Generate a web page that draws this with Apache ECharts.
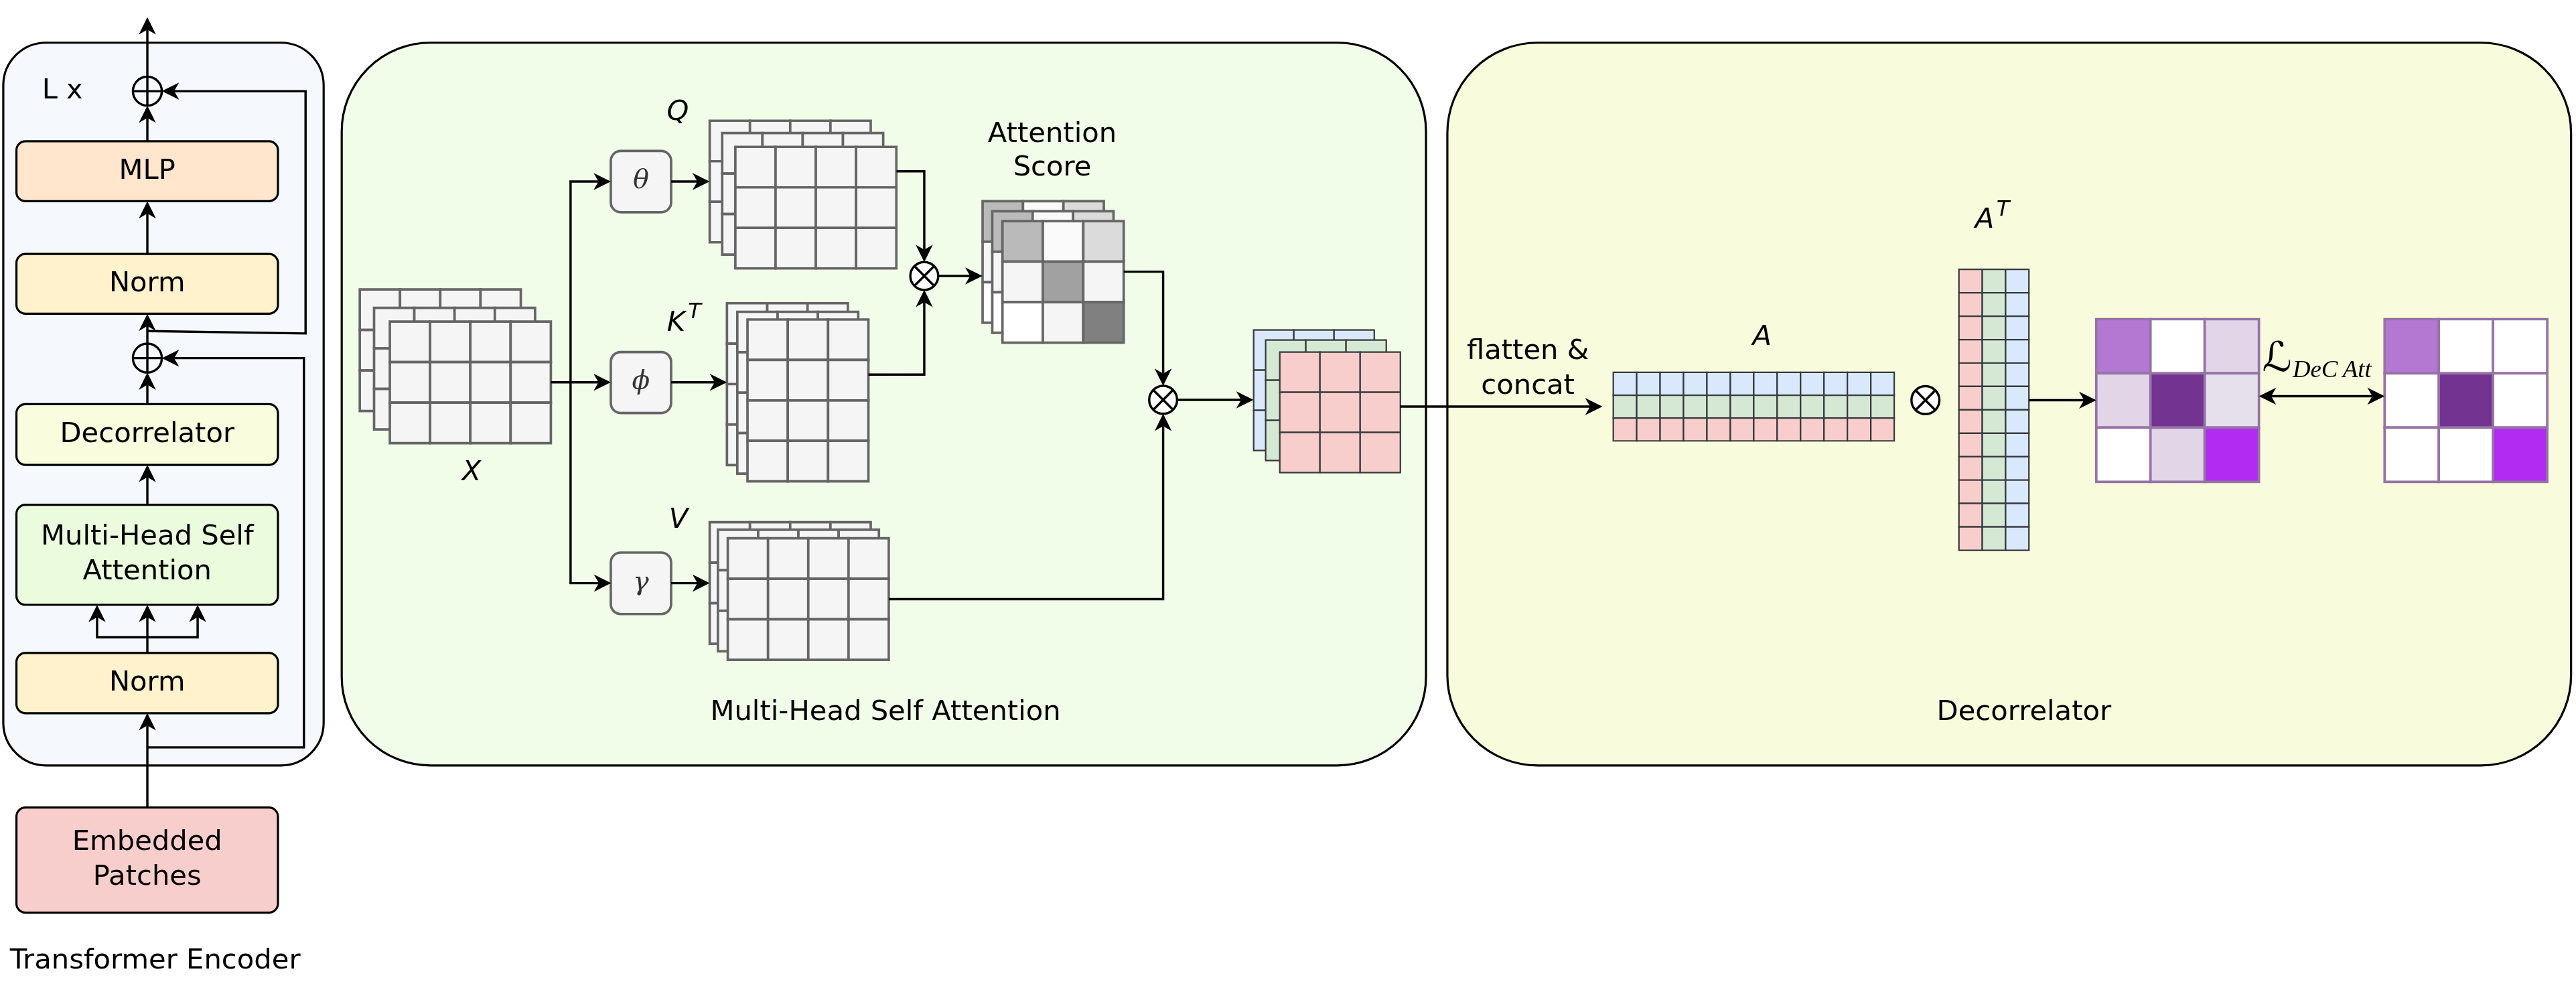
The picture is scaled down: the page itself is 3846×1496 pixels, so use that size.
<!DOCTYPE html>
<html><head><meta charset="utf-8">
<script src="https://cdn.jsdelivr.net/npm/echarts@6/dist/echarts.min.js"></script>
<style>html,body{margin:0;padding:0;background:#fff}#c{width:3846px;height:1496px}</style>
</head><body><div id="c"></div>
<script>
// ---- drawing space (reference units) ----
const SPACE_W = 1568, SPACE_H = 610;

// ---- panels ----
const panels = [
  {id:'encoder', x0:2,   y0:26, x1:197,  y1:466, r:26},
  {id:'mhsa',    x0:208, y0:26, x1:868,  y1:466, r:54},
  {id:'decor',   x0:881, y0:26, x1:1565, y1:466, r:55}
];
const panelFill = {encoder:'#f5f8fd', mhsa:'#f1fde8', decor:'#f8fcdc'};

// ---- encoder blocks ----
const encoderBlocks = [
  {label:'MLP', kind:'mlp', top:86, bottom:122.5},
  {label:'Norm', kind:'norm', top:154.6, bottom:191},
  {label:'Decorrelator', kind:'decor', top:246, bottom:283},
  {label:'Multi-Head Self\nAttention', kind:'mhsa', top:307.3, bottom:368.2},
  {label:'Norm', kind:'norm', top:397.5, bottom:434.2},
  {label:'Embedded\nPatches', kind:'embed', top:491.6, bottom:555.6}
];
const ENC_X = [10, 169.2];
const blockFill = {mlp:'#ffe6cc', norm:'#fff2cc', decor:'#f9fcdd', mhsa:'#eafcdd', embed:'#f8cecc', proj:'#f5f5f5'};

// ---- projection boxes ----
const projections = [
  {sym:'θ', top:91.9, bottom:129.2},
  {sym:'ϕ', top:214.3, bottom:251.4},
  {sym:'γ', top:336.4, bottom:373.8}
];
const PROJ_X = [371.8, 408.5];

// ---- matrices ----
const attentionScores = [[0.73,0.98,0.86],[0.96,0.63,0.96],[1.0,0.96,0.5]];
const headColors = ['#dae8fc','#d5e8d4','#f8cecc'];
const purpleLevels = ['#ffffff','#e1d5e7','#e6e0ec','#b378d2','#733391','#b12bf2'];
const decorrelation = [[3,0,1],[1,4,2],[0,1,5]];
const target = [[3,0,0],[0,4,0],[0,0,5]];

const gridStacks = [
  {id:'X', cols:4, rows:3, w:98, h:74, style:'gray', origins:[[219,176.2],[227.7,187.4],[237.3,195.8]]},
  {id:'Q', cols:4, rows:3, w:98, h:74, style:'gray', origins:[[432,73.5],[439.6,81],[447.6,89.4]]},
  {id:'K', cols:3, rows:4, w:73.6, h:98.5, style:'gray', origins:[[442.5,184.6],[448.8,189.8],[455,194.5]]},
  {id:'V', cols:4, rows:3, w:98, h:74, style:'gray', origins:[[432,317.9],[437,322.5],[443,327.7]]},
  {id:'S', cols:3, rows:3, w:73.8, h:74, style:'gray', origins:[[598.1,122.5],[604,128.6],[610.2,134.6]]},
  {id:'O', cols:3, rows:3, w:73.4, h:73.4, style:'dark', origins:[[763.1,200.9],[770.4,207],[779,214.3]]},
  {id:'A', cols:12, rows:3, w:171, h:41.7, style:'dark', origins:[[982,226.7]]},
  {id:'AT', cols:3, rows:12, w:42.6, h:171, style:'dark', origins:[[1192.4,164]]},
  {id:'M1', cols:3, rows:3, w:99, h:99, style:'purple', origins:[[1276,194.3]]},
  {id:'M2', cols:3, rows:3, w:99, h:99, style:'purple', origins:[[1451.5,194.3]]}
];
const sheetStyle = {gray:{stroke:'#666666', lw:1.5}, dark:{stroke:'#36393d', lw:0.9}, purple:{stroke:'#9673a6', lw:1.5}};

// ---- operators ----
const operators = [
  {op:'plus', x:89.7, y:55.5},
  {op:'plus', x:89.7, y:218},
  {op:'times', x:562.6, y:168},
  {op:'times', x:708, y:243.4},
  {op:'times', x:1172, y:243.6}
];

// ---- connectors ----
const connectors = [
  {pts:[[89.7,46.7],[89.7,10.5]], head:'end'},
  {pts:[[89.7,86],[89.7,64.3]], head:'end'},
  {pts:[[89.7,154.6],[89.7,122.5]], head:'end'},
  {pts:[[89.7,209.2],[89.7,191]], head:'end'},
  {pts:[[89.7,201.5],[186,203],[186,55.5],[98.5,55.5]], head:'end'},
  {pts:[[89.7,246],[89.7,226.8]], head:'end'},
  {pts:[[89.7,307.3],[89.7,283]], head:'end'},
  {pts:[[89.7,455],[185,455],[185,218],[98.5,218]], head:'end'},
  {pts:[[89.7,397.5],[89.7,368.2]], head:'end'},
  {pts:[[89.7,388],[59.1,388],[59.1,368.2]], head:'end'},
  {pts:[[89.7,388],[120.3,388],[120.3,368.2]], head:'end'},
  {pts:[[89.7,491.6],[89.7,434.2]], head:'end'},
  {pts:[[335.3,232.7],[371.8,232.7]], head:'end'},
  {pts:[[371.8,110.5],[347.3,110.5],[347.3,355],[372,355]], head:'both'},
  {pts:[[408.5,110.5],[432,110.5]], head:'end'},
  {pts:[[408.5,232.7],[442.5,232.7]], head:'end'},
  {pts:[[408.5,355],[432,355]], head:'end'},
  {pts:[[545.7,104.3],[562.6,104.3],[562.6,159.5]], head:'end'},
  {pts:[[528.6,228],[562.6,228],[562.6,176.5]], head:'end'},
  {pts:[[571.1,168],[598,168]], head:'end'},
  {pts:[[684,165.4],[708,165.4],[708,234.9]], head:'end'},
  {pts:[[541,364.7],[708,364.7],[708,251.9]], head:'end'},
  {pts:[[716.5,243.4],[763,243.4]], head:'end'},
  {pts:[[852.2,247.5],[975.4,247.5]], head:'end'},
  {pts:[[1235,243.6],[1276,243.6]], head:'end'},
  {pts:[[1375,241.2],[1451.5,241.2]], head:'both'}
];

// ---- labels ----
const labels = [
  {text:'L x', x:38, y:55.5, kind:'sans'},
  {text:'Transformer Encoder', x:6, y:585, kind:'sans', anchor:'left'},
  {text:'Multi-Head Self Attention', x:539, y:434, kind:'sans'},
  {text:'Decorrelator', x:1232, y:434, kind:'sans'},
  {text:'Attention', x:640.5, y:82, kind:'sans'},
  {text:'Score', x:640.5, y:102.5, kind:'sans'},
  {text:'flatten &', x:930, y:214.2, kind:'sans'},
  {text:'concat', x:930, y:235.3, kind:'sans'},
  {text:'X', x:287, y:288, kind:'math'},
  {text:'Q', x:412.5, y:68.5, kind:'math'},
  {text:'K', x:411.5, y:197, kind:'math'},
  {text:'T', x:422.8, y:190.5, kind:'sup'},
  {text:'V', x:413, y:317, kind:'math'},
  {text:'A', x:1072.5, y:205.7, kind:'math'},
  {text:'A', x:1208, y:134.3, kind:'math'},
  {text:'T', x:1219.2, y:127.8, kind:'sup'},
  {text:'ℒ', x:1386, y:219.5, kind:'lossL'},
  {text:'DeC\u2009Att', x:1419.5, y:225.5, kind:'lossSub'}
];
const labelFont = {
  sans:{size:17, font:'"DejaVu Sans"', style:'normal'},
  math:{size:17, font:'"DejaVu Sans"', style:'italic'},
  sup:{size:13, font:'"DejaVu Sans"', style:'italic'},
  lossL:{size:25, font:'"DejaVu Serif", "DejaVu Sans"', style:'italic'},
  lossSub:{size:15, font:'"Liberation Serif"', style:'italic'}
};

// ---- helpers ----
const ARROW = {len:10.5, half:5.2, notch:3};
const LINE_W = 1.4;
function unit(api){ return api.coord([1,0])[0] - api.coord([0,0])[0]; }
function rectFrom(api, x0, y0, x1, y1){
  const a = api.coord([x0,y0]), b = api.coord([x1,y1]);
  return {x:Math.min(a[0],b[0]), y:Math.min(a[1],b[1]), width:Math.abs(b[0]-a[0]), height:Math.abs(b[1]-a[1])};
}
function textStyle(text, x, y, size, family, fstyle, k, align, fill){
  return {text:text, x:x, y:y, fill:fill||'#000',
    font: fstyle + ' ' + (size*k).toFixed(1) + 'px ' + family,
    align:align||'center', verticalAlign:'middle', textAlign:align||'center', textVerticalAlign:'middle',
    lineHeight: 21.3*k};
}
function arrowHead(tip, from, k){
  const dx = tip[0]-from[0], dy = tip[1]-from[1], len = Math.hypot(dx,dy);
  const ux = dx/len, uy = dy/len, nx = -uy, ny = ux;
  const L = ARROW.len*k, W = ARROW.half*k, N = ARROW.notch*k;
  const bx = tip[0]-ux*L, by = tip[1]-uy*L;
  const neck = [tip[0]-ux*(L-N), tip[1]-uy*(L-N)];
  return {poly:[tip, [bx+nx*W, by+ny*W], neck, [bx-nx*W, by-ny*W]], neck:neck};
}
function cellColor(st, layer, r, c){
  switch(st.id){
    case 'S': { const g = Math.round(255*attentionScores[r][c]); return 'rgb('+g+','+g+','+g+')'; }
    case 'O': return headColors[layer];
    case 'A': return headColors[r];
    case 'AT': return headColors[2-c];
    case 'M1': return purpleLevels[decorrelation[r][c]];
    case 'M2': return purpleLevels[target[r][c]];
    default: return '#f5f5f5';
  }
}

const sheetList = [];
gridStacks.forEach(st => st.origins.forEach((o, i) => sheetList.push({stack:st, layer:i, x:o[0], y:o[1]})));

const blockList = encoderBlocks.map(b => ({x0:ENC_X[0], x1:ENC_X[1], y0:b.top, y1:b.bottom, text:b.label, kind:b.kind}))
  .concat(projections.map(p => ({x0:PROJ_X[0], x1:PROJ_X[1], y0:p.top, y1:p.bottom, text:p.sym, kind:'proj'})));

const chart = echarts.init(document.getElementById('c'));
const option = {
  animation:false,
  backgroundColor:'#ffffff',
  grid:{left:0, right:0, top:0, bottom:0},
  xAxis:{type:'value', min:0, max:SPACE_W, show:false},
  yAxis:{type:'value', min:0, max:SPACE_H, inverse:true, show:false},
  series:[
    {type:'custom', name:'panels', silent:true, z:1, clip:false,
      data: panels.map(p => [p.x0, p.y0, p.x1, p.y1]),
      encode:{x:[0,2], y:[1,3]},
      renderItem:(params, api) => {
        const k = unit(api), p = panels[params.dataIndex];
        const s = rectFrom(api, api.value(0), api.value(1), api.value(2), api.value(3));
        s.r = p.r*k;
        return {type:'rect', shape:s, style:{fill:panelFill[p.id], stroke:'#000', lineWidth:1.3*k}};
      }},
    {type:'custom', name:'sheets', silent:true, z:2, clip:false,
      data: sheetList.map(s => [s.x, s.y, s.x + s.stack.w, s.y + s.stack.h]),
      encode:{x:[0,2], y:[1,3]},
      renderItem:(params, api) => {
        const k = unit(api), sh = sheetList[params.dataIndex], st = sh.stack, sty = sheetStyle[st.style];
        const cw = st.w/st.cols, ch = st.h/st.rows, children = [];
        for (let r = 0; r < st.rows; r++) for (let c = 0; c < st.cols; c++) {
          children.push({type:'rect', shape:rectFrom(api, sh.x + c*cw, sh.y + r*ch, sh.x + (c+1)*cw, sh.y + (r+1)*ch),
            style:{fill:cellColor(st, sh.layer, r, c), stroke:sty.stroke, lineWidth:sty.lw*k}});
        }
        return {type:'group', children:children};
      }},
    {type:'custom', name:'blocks', silent:true, z:3, clip:false,
      data: blockList.map(b => [b.x0, b.y0, b.x1, b.y1]),
      encode:{x:[0,2], y:[1,3]},
      renderItem:(params, api) => {
        const k = unit(api), b = blockList[params.dataIndex];
        const s = rectFrom(api, b.x0, b.y0, b.x1, b.y1);
        const proj = b.kind === 'proj';
        s.r = (proj ? 6 : 5.5)*k;
        const cx = s.x + s.width/2, cy = s.y + s.height/2;
        return {type:'group', children:[
          {type:'rect', shape:s, style:{fill:blockFill[b.kind], stroke:proj ? '#666666' : '#000', lineWidth:(proj ? 1.5 : 1.3)*k}},
          {type:'text', style: proj ? textStyle(b.text, cx, cy, 16, '"DejaVu Serif"', 'italic', k, 'center', '#333')
                                    : textStyle(b.text, cx, cy, 17, '"DejaVu Sans"', 'normal', k, 'center', '#000')}
        ]};
      }},
    {type:'custom', name:'connectors', silent:true, z:4, clip:false,
      data: connectors.map(c => [c.pts[0][0], c.pts[0][1]]),
      encode:{x:0, y:1},
      renderItem:(params, api) => {
        const k = unit(api), c = connectors[params.dataIndex];
        const px = c.pts.map(p => api.coord(p));
        const children = [];
        const n = px.length;
        const endH = arrowHead(px[n-1], px[n-2], k);
        children.push({type:'polygon', shape:{points:endH.poly}, style:{fill:'#000'}});
        px[n-1] = endH.neck;
        if (c.head === 'both') {
          const stH = arrowHead(px[0], px[1], k);
          children.push({type:'polygon', shape:{points:stH.poly}, style:{fill:'#000'}});
          px[0] = stH.neck;
        }
        children.unshift({type:'polyline', shape:{points:px}, style:{fill:null, stroke:'#000', lineWidth:LINE_W*k, lineJoin:'miter'}});
        return {type:'group', children:children};
      }},
    {type:'custom', name:'operators', silent:true, z:5, clip:false,
      data: operators.map(o => [o.x, o.y]),
      encode:{x:0, y:1},
      renderItem:(params, api) => {
        const k = unit(api), o = operators[params.dataIndex];
        const p = api.coord([api.value(0), api.value(1)]);
        const r = (o.op === 'plus' ? 8.8 : 8.5)*k, lw = 1.4*k;
        const children = [{type:'circle', shape:{cx:p[0], cy:p[1], r:r}, style:{fill: o.op === 'plus' ? 'rgba(0,0,0,0)' : '#fff', stroke:'#000', lineWidth:lw}}];
        if (o.op === 'plus') {
          children.push({type:'line', shape:{x1:p[0]-r, y1:p[1], x2:p[0]+r, y2:p[1]}, style:{stroke:'#000', lineWidth:lw}});
          children.push({type:'line', shape:{x1:p[0], y1:p[1]-r, x2:p[0], y2:p[1]+r}, style:{stroke:'#000', lineWidth:lw}});
        } else {
          const d = r*0.7071;
          children.push({type:'line', shape:{x1:p[0]-d, y1:p[1]-d, x2:p[0]+d, y2:p[1]+d}, style:{stroke:'#000', lineWidth:lw}});
          children.push({type:'line', shape:{x1:p[0]-d, y1:p[1]+d, x2:p[0]+d, y2:p[1]-d}, style:{stroke:'#000', lineWidth:lw}});
        }
        return {type:'group', children:children};
      }},
    {type:'custom', name:'labels', silent:true, z:6, clip:false,
      data: labels.map(l => [l.x, l.y]),
      encode:{x:0, y:1},
      renderItem:(params, api) => {
        const k = unit(api), l = labels[params.dataIndex], f = labelFont[l.kind];
        const p = api.coord([api.value(0), api.value(1)]);
        return {type:'text', style:textStyle(l.text, p[0], p[1], f.size, f.font, f.style, k, l.anchor || 'center', '#000')};
      }}
  ]
};
chart.setOption(option);
</script>
</body></html>
